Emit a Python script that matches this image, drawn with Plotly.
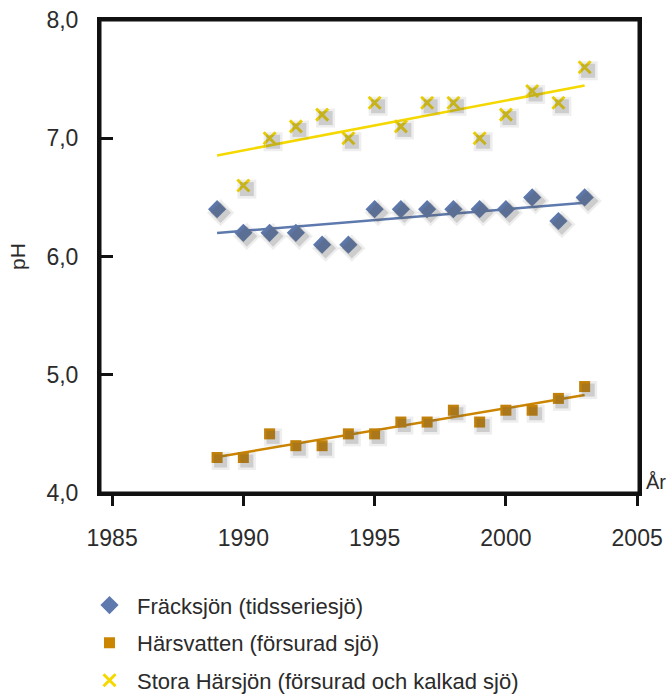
import numpy as np
import plotly.graph_objects as go

years = [1989, 1990, 1991, 1992, 1993, 1994, 1995, 1996, 1997, 1998, 1999, 2000, 2001, 2002, 2003]
fracksjon = [6.4, 6.2, 6.2, 6.2, 6.1, 6.1, 6.4, 6.4, 6.4, 6.4, 6.4, 6.4, 6.5, 6.3, 6.5]
harsvatten = [4.3, 4.3, 4.5, 4.4, 4.4, 4.5, 4.5, 4.6, 4.6, 4.7, 4.6, 4.7, 4.7, 4.8, 4.9]
stora_years = [1990, 1991, 1992, 1993, 1994, 1995, 1996, 1997, 1998, 1999, 2000, 2001, 2002, 2003]
stora = [6.6, 7.0, 7.1, 7.2, 7.0, 7.3, 7.1, 7.3, 7.3, 7.0, 7.2, 7.4, 7.3, 7.6]

names = ["Fräcksjön (tidsseriesjö)", "Härsvatten (försurad sjö)",
         "Stora Härsjön (försurad och kalkad sjö)"]
y_tickvals = [4, 5, 6, 7, 8]
y_ticktext = ["4,0", "5,0", "6,0", "7,0", "8,0"]
x_tickvals = [1985, 1990, 1995, 2000, 2005]

BLUE = "#5d79ad"
ORANGE = "#cc8500"
YELLOW = "#f5d800"
FONT = "Liberation Sans, Arial, sans-serif"
TXT = "#2b2b2b"

xr = [1984.54, 2005.07]
yr = [4.0, 8.0]
px_per_x = 539.5 / (xr[1] - xr[0])
px_per_y = 473 / (yr[1] - yr[0])
sh = 3.5

series = [
    (years, fracksjon, names[0], BLUE, "diamond", 14, 0),
    (years, harsvatten, names[1], ORANGE, "square", 11, 0),
    (stora_years, stora, names[2], YELLOW, "x-thin", 12, 3),
]

fig = go.Figure()

# soft shadows on a shifted overlay axis
for xs, ys, name, col, sym, size, lw in series:
    for extra, op in [(7, 0.10), (2, 0.22)]:
        fig.add_trace(go.Scatter(
            x=xs, y=ys, mode="markers", xaxis="x2", yaxis="y2",
            marker=dict(symbol=sym if sym != "x-thin" else "square", size=size + extra,
                        color="rgba(90,90,90,%s)" % op, line=dict(width=0)),
            showlegend=False, hoverinfo="skip"))

x_all = years
for xs, ys, name, col, sym, size, lw in series:
    k, b = np.polyfit(xs, ys, 1)
    xl = [min(x_all), max(x_all)]
    fig.add_trace(go.Scatter(x=xl, y=[k * v + b for v in xl], mode="lines",
                             line=dict(color=col, width=2.5), showlegend=False,
                             hoverinfo="skip"))

for i, (xs, ys, name, col, sym, size, lw) in enumerate(series):
    if sym == "x-thin":
        marker = dict(symbol=sym, size=size, line=dict(color=col, width=lw), color=col)
    else:
        marker = dict(symbol=sym, size=size, color=col, line=dict(width=0))
    fig.add_trace(go.Scatter(x=xs, y=ys, mode="markers", name=name, marker=marker,
                             legendgroup=str(i)))

axis_common = dict(showgrid=False, zeroline=False, linecolor="#111111", linewidth=3,
                   tickcolor="#111111", tickwidth=3, automargin=False,
                   ticklabeloverflow="allow",
                   tickfont=dict(family=FONT, size=23, color=TXT))

fig.update_layout(
    width=668, height=696,
    margin=dict(l=99.5, r=29, t=20, b=203, pad=0, autoexpand=False),
    paper_bgcolor="white", plot_bgcolor="white",
    font=dict(family=FONT, color=TXT),
    xaxis=dict(range=xr, tickvals=x_tickvals, ticks="outside", ticklen=10,
               mirror=True, showline=True, ticklabelstandoff=12, **axis_common),
    yaxis=dict(range=yr, tickvals=y_tickvals, ticktext=y_ticktext, ticks="inside",
               ticklen=13, mirror=True, showline=True, ticklabelstandoff=14,
               title=dict(text="pH", font=dict(family=FONT, size=21, color=TXT), standoff=16),
               **axis_common),
    xaxis2=dict(range=[xr[0] - sh / px_per_x, xr[1] - sh / px_per_x], overlaying="x",
                visible=False),
    yaxis2=dict(range=[yr[0] + sh / px_per_y, yr[1] + sh / px_per_y], overlaying="y",
                visible=False),
    legend=dict(x=-0.0334, y=-0.193, xanchor="left", yanchor="top", orientation="v",
                font=dict(family=FONT, size=22, color=TXT), tracegroupgap=6,
                itemwidth=45, bgcolor="rgba(0,0,0,0)"),
    showlegend=True,
    shapes=[dict(type="rect", xref="paper", yref="paper", x0=0, x1=1, y0=0, y1=1,
                 line=dict(color="#111111", width=3), layer="above")],
    annotations=[dict(text="År", x=1, y=0, xref="paper", yref="paper",
                      xanchor="left", yanchor="bottom", xshift=5, yshift=-2,
                      showarrow=False, font=dict(family=FONT, size=20, color=TXT))],
)

# remove the default 8px page margin so the 668x696 figure fills the window
fig.write_html("out.html", config={"displayModeBar": False},
               post_script="document.body.style.margin='0';document.body.style.overflow='hidden';")
